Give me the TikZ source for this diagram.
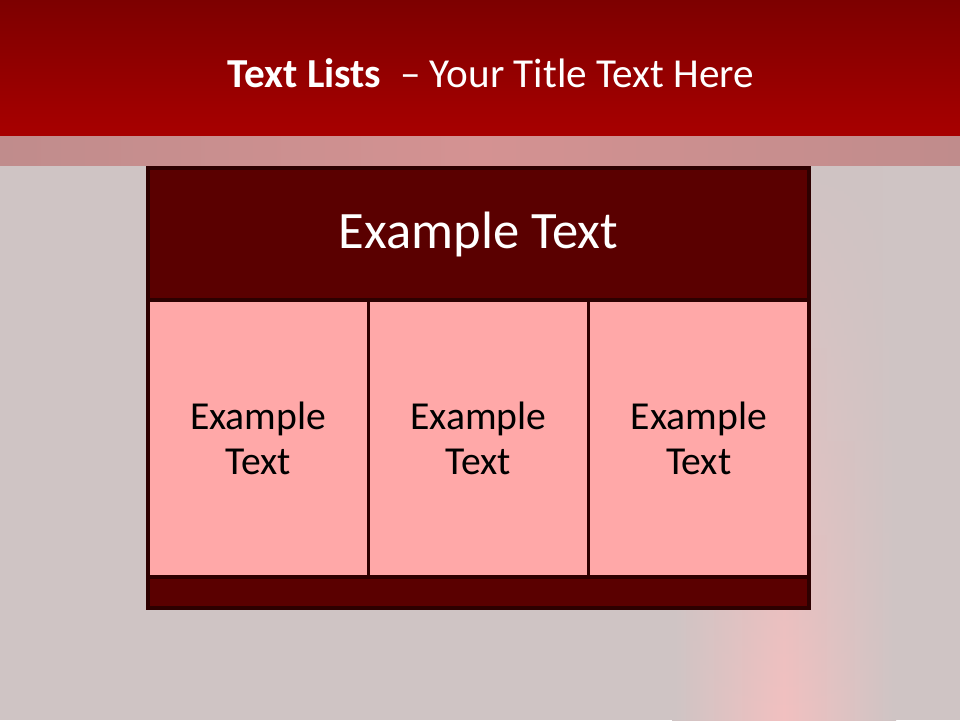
\documentclass[tikz,border=0pt]{standalone}
\usepackage{fontspec}
\setmainfont{Carlito}
\usetikzlibrary{positioning,fadings}

\definecolor{slidebg}{RGB}{207,196,196}
\definecolor{barTop}{RGB}{125,0,0}
\definecolor{barBottom}{RGB}{168,0,0}
\definecolor{bandEdge}{RGB}{192,140,140}
\definecolor{bandMid}{RGB}{212,146,146}
\definecolor{streak}{RGB}{242,192,192}
\definecolor{darkRed}{RGB}{90,0,0}
\definecolor{cellPink}{RGB}{255,168,168}
\definecolor{rimColor}{RGB}{45,0,0}

\begin{document}
\begin{tikzpicture}[
		hdrbox/.style={draw=rimColor, line width=2.4pt, fill=darkRed, text=white,
			minimum width=16.525cm, minimum height=3.3cm, outer sep=0pt,
			inner sep=0pt, font=\fontsize{37.4pt}{41pt}\selectfont},
		cellbox/.style={draw=rimColor, line width=2.4pt, fill=cellPink, text=black,
			minimum width=5.508cm, minimum height=6.925cm, outer sep=0pt,
			inner sep=0pt, align=center, font=\fontsize{28.2pt}{32pt}\selectfont},
		footbox/.style={draw=rimColor, line width=2.4pt, fill=darkRed,
			minimum width=16.525cm, minimum height=0.775cm, outer sep=0pt, inner sep=0pt},
		titletext/.style={text=white, inner sep=0pt, font=\fontsize{29.3pt}{34pt}\selectfont}
	]
	
	%--- Slide background ---
	\fill[slidebg] (0,0) rectangle (24,18);
	\shade[left color=slidebg, right color=slidebg, middle color=streak, path fading=north]
	(16.8,0) rectangle (22.4,14);
	\useasboundingbox (0,0) rectangle (24,18);
	
	%--- Title bar + light band below it ---
	\coordinate (barNW) at (0,18);
	\coordinate (barSE) at (24,14.575);
	\coordinate (bandSE) at (24,13.85);
	\shade[top color=barTop, bottom color=barBottom] (barNW) rectangle (barSE);
	\shade[left color=bandEdge, right color=bandEdge, middle color=bandMid]
	(0,14.575) rectangle (bandSE);
	
	\node[titletext, anchor=base] (title) at (12.275,15.8)
	{\textbf{Text Lists}~ – Your Title Text Here};
	
	%--- Table ---
	\node[hdrbox, anchor=north west] (head) at (3.7,13.8) {\raisebox{-2pt}{Example Text}};
	
	\node[cellbox, anchor=north west] (cellA) at (head.south west) {Example\\Text};
	\node[cellbox, anchor=north west] (cellB) at (cellA.north east) {Example\\Text};
	\node[cellbox, anchor=north west] (cellC) at (cellB.north east) {Example\\Text};
	
	\node[footbox, anchor=north west] (foot) at (cellA.south west) {};
	
\end{tikzpicture}
\end{document}
